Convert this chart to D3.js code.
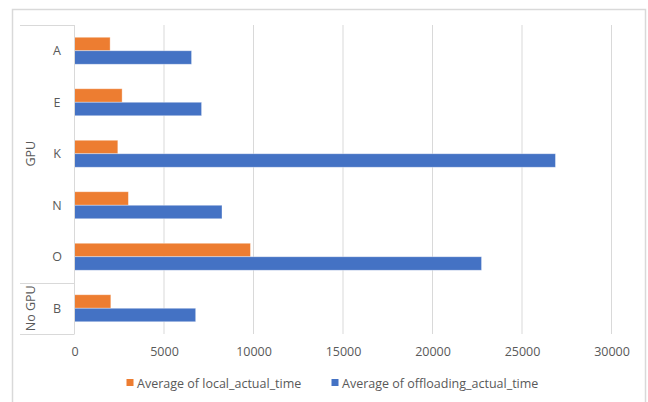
<!DOCTYPE html>
<html><head><meta charset="utf-8">
<script src="https://cdn.jsdelivr.net/npm/d3@7"></script>
<style>
html,body{margin:0;padding:0;background:#fff;}
svg text{font-family:"Open Sans",sans-serif;fill:#595959;}
</style></head>
<body><svg id="c" width="648" height="402"></svg>
<script>
const categories = ["A","E","K","N","O","B"];
const groups = [{name:"GPU", members:["A","E","K","N","O"]},{name:"No GPU", members:["B"]}];
const localTime = [1990, 2660, 2420, 3010, 9830, 2030];
const offloadingTime = [6540, 7100, 26870, 8240, 22740, 6770];
const seriesNames = ["Average of local_actual_time","Average of offloading_actual_time"];
const colors = ["#ED7D31","#4472C4"];
const xTicks = [0,5000,10000,15000,20000,25000,30000];

(function(){
const svg = d3.select("#c");
const pL = 74.5, pR = 611.5, pT = 25, pB = 334;
const fs = "12.5px";
const x = d3.scaleLinear().domain([0,30000]).range([pL,pR]);
const y = d3.scaleBand().domain(categories).range([pT,pB]).paddingInner(0).paddingOuter(0);
const bandH = y.bandwidth();
const barH = 13.5;

// outer border
svg.append("rect").attr("x",12.5).attr("y",9.5).attr("width",633).attr("height",400)
  .attr("fill","none").attr("stroke","#d9d9d9").attr("stroke-width",1.5);

// gridlines
svg.append("g").selectAll("line").data(xTicks.slice(1)).join("line")
  .attr("x1",d=>x(d)).attr("x2",d=>x(d)).attr("y1",pT).attr("y2",pB)
  .attr("stroke","#d9d9d9").attr("stroke-width",1);

// x axis labels
const xa = svg.append("g").attr("transform",`translate(0,${pB})`)
  .call(d3.axisBottom(x).tickValues(xTicks).tickSize(0).tickPadding(13).tickFormat(d3.format("d")));
xa.select(".domain").remove();
xa.selectAll("text").style("font-size",fs).style("font-family","'Open Sans',sans-serif").style("fill","#595959");

// bars
const data = categories.map((c,i)=>({c, v:[localTime[i], offloadingTime[i]]}));
const g = svg.append("g");
data.forEach(d=>{
  d.v.forEach((v,s)=>{
    const yc = y(d.c) + bandH/2;
    g.append("rect")
      .attr("x",x(0)).attr("y", yc - barH + s*barH)
      .attr("width", x(v)-x(0)).attr("height", barH)
      .attr("fill",colors[s]).attr("stroke","#ffffff").attr("stroke-opacity",0.45).attr("stroke-width",0.8);
  });
});

// category axis box lines
const ax = svg.append("g").attr("stroke","#d9d9d9").attr("stroke-width",1);
ax.append("line").attr("x1",pL).attr("x2",pL).attr("y1",pT).attr("y2",pB);
let boundaries = [pT];
groups.forEach(gr=>{ const last = gr.members[gr.members.length-1]; boundaries.push(y(last)+bandH); });
boundaries.forEach(b=>{
  ax.append("line").attr("x1",20).attr("x2",pL).attr("y1",Math.round(b)+0.5).attr("y2",Math.round(b)+0.5);
});

// category labels
svg.append("g").selectAll("text").data(categories).join("text")
  .attr("x",57).attr("y",d=>y(d)+bandH/2).attr("text-anchor","middle").attr("dominant-baseline","central")
  .style("font-size",fs).text(d=>d);

// group labels
groups.forEach(gr=>{
  const y0 = y(gr.members[0]), y1 = y(gr.members[gr.members.length-1])+bandH;
  const yc = (y0+y1)/2;
  svg.append("text").attr("transform",`translate(30,${yc}) rotate(-90)`)
    .attr("text-anchor","middle").attr("dominant-baseline","central")
    .style("font-size",fs).text(gr.name);
});

// legend
const legX = [126.5, 331.5];
seriesNames.forEach((n,i)=>{
  svg.append("rect").attr("x",legX[i]).attr("y",379).attr("width",7).attr("height",7).attr("fill",colors[i]);
  svg.append("text").attr("x",legX[i]+10.5).attr("y",383).attr("dominant-baseline","central")
    .style("font-size",fs).text(n);
});
})();
</script></body></html>
